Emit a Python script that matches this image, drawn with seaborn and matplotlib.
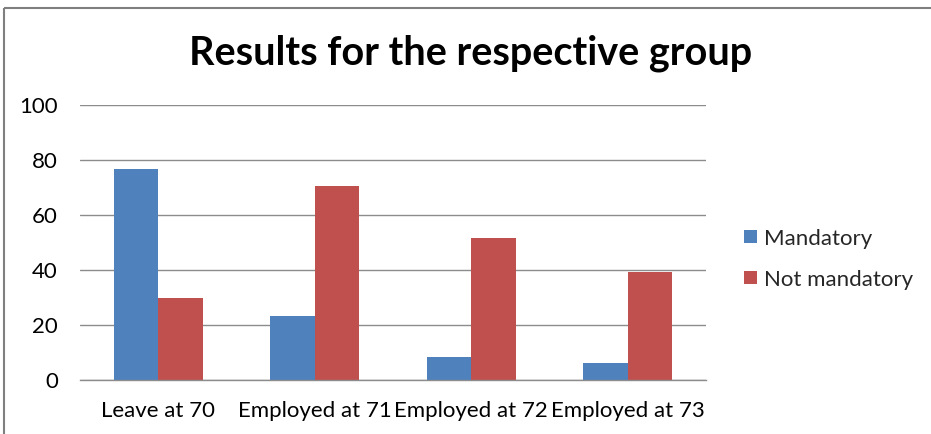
import matplotlib
matplotlib.use("Agg")
import matplotlib.pyplot as plt
import seaborn as sns
import pandas as pd
from matplotlib.lines import Line2D
from matplotlib.patches import Patch

categories = ["Leave at 70", "Employed at 71", "Employed at 72", "Employed at 73"]
mandatory = [76.7, 23.2, 8.2, 6.2]
not_mandatory = [29.8, 70.3, 51.6, 39.4]
series_names = ["Mandatory", "Not mandatory"]
y_ticks = [0, 20, 40, 60, 80, 100]

df = pd.DataFrame({
    "group": categories * 2,
    "value": mandatory + not_mandatory,
    "series": [series_names[0]] * len(categories) + [series_names[1]] * len(categories),
})

sns.set_theme(style="white")
plt.rcParams["font.family"] = ["Lato", "DejaVu Sans"]

colors = ["#4F81BD", "#C0504D"]

fig = plt.figure(figsize=(9.31, 4.34), dpi=100)
ax = fig.add_axes([0.0859, 0.1244, 0.6724, 0.6344])

sns.barplot(data=df, x="group", y="value", hue="series", palette=colors,
            width=0.566, gap=0, saturation=1, ax=ax, legend=False,
            edgecolor="none", linewidth=0)

ax.set_ylim(0, 100)
ax.set_yticks(y_ticks)
ax.set_xlim(-0.5, 3.5)
ax.yaxis.grid(True, color="#8c8c8c", linewidth=1)
ax.set_axisbelow(True)
for s in ["left", "right", "top"]:
    ax.spines[s].set_visible(False)
ax.spines["bottom"].set_color("#8c8c8c")
ax.spines["bottom"].set_linewidth(1)
ax.tick_params(axis="both", length=0, labelsize=16, colors="#000000")
ax.tick_params(axis="y", pad=16)
ax.tick_params(axis="x", pad=15)
ax.set_xlabel("")
ax.set_ylabel("")

fig.text(0.505, 0.878, "Results for the respective group", ha="center", va="center",
         fontsize=28.5, fontweight="bold", color="#000000")

handles = [Patch(facecolor=c, edgecolor="none") for c in colors]
fig.legend(handles, series_names, loc="center left", bbox_to_anchor=(0.778, 0.403),
           frameon=False, fontsize=16, handlelength=0.55, handleheight=0.55,
           handletextpad=0.35, labelspacing=0.95)

# outer chart frame: left and top edges
frame_color = "#7f7f7f"
fig.add_artist(Line2D([4, 4], [0, 426], transform=None, color=frame_color,
                      linewidth=1.5, solid_capstyle="butt"))
fig.add_artist(Line2D([4, 931], [426, 426], transform=None, color=frame_color,
                      linewidth=1.5, solid_capstyle="butt"))

fig.savefig("out.png", dpi=100, facecolor="white")
